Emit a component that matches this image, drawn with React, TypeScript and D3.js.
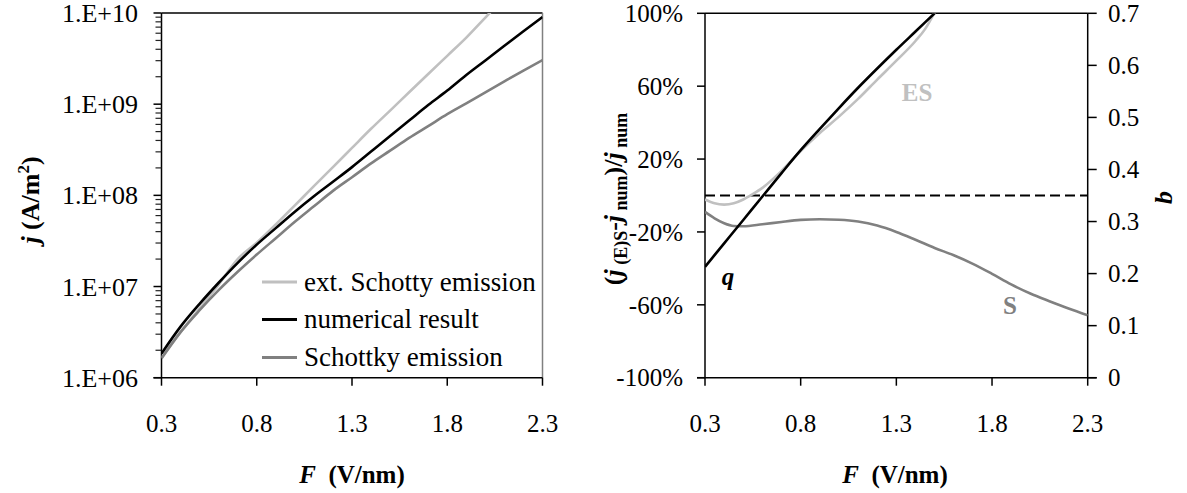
import React from "react";
import * as d3 from "d3";

// ---- Left panel: current density vs field ----
const F_LEFT = [0.3, 0.4, 0.5, 0.6, 0.7, 0.8, 0.9, 1.0, 1.1, 1.2, 1.3, 1.4, 1.5, 1.6, 1.7, 1.8, 1.9, 2.0, 2.1, 2.2, 2.3];
const J_EXT_SCHOTTKY = [1.66e6, 3.16e6, 5.75e6, 1.05e7, 2.0e7, 3.02e7, 4.79e7, 7.76e7, 1.26e8, 2.04e8, 3.31e8, 5.37e8, 8.51e8, 1.35e9, 2.14e9, 3.39e9, 5.37e9, 8.91e9, 1.48e10];
const J_NUMERICAL = [1.84e6, 3.63e6, 6.46e6, 1.1e7, 1.82e7, 2.88e7, 4.37e7, 6.61e7, 9.77e7, 1.41e8, 2.04e8, 3.02e8, 4.47e8, 6.61e8, 9.77e8, 1.41e9, 2.09e9, 3.02e9, 4.37e9, 6.31e9, 9.02e9];
const J_SCHOTTKY = [1.62e6, 3.16e6, 5.5e6, 9.12e6, 1.45e7, 2.24e7, 3.39e7, 5.13e7, 7.59e7, 1.12e8, 1.58e8, 2.24e8, 3.09e8, 4.27e8, 5.75e8, 7.76e8, 1.02e9, 1.35e9, 1.78e9, 2.34e9, 3.05e9];
const LEFT_Y_TICKS = [1e6, 1e7, 1e8, 1e9, 1e10];
const LEFT_Y_LABELS = ["1.E+06", "1.E+07", "1.E+08", "1.E+09", "1.E+10"];
const X_TICKS = [0.3, 0.8, 1.3, 1.8, 2.3];
const X_LABELS = ["0.3", "0.8", "1.3", "1.8", "2.3"];
const LEGEND_LABELS = ["ext. Schotty emission", "numerical result", "Schottky emission"];

// ---- Right panel: relative deviation and q ----
const F_ES = [0.3, 0.35, 0.4, 0.45, 0.5, 0.55, 0.6, 0.7, 0.8, 0.9, 1.0, 1.1, 1.2, 1.3, 1.4, 1.45, 1.5];
const DEV_ES = [-2.2, -4.3, -5.0, -4.3, -2.2, 0.8, 4.2, 13.5, 24.4, 34.3, 43.3, 53, 63.6, 74, 84.8, 91.3, 100.5];
const F_S = [0.3, 0.35, 0.4, 0.45, 0.5, 0.6, 0.7, 0.8, 0.9, 1.0, 1.1, 1.2, 1.3, 1.4, 1.5, 1.6, 1.7, 1.8, 1.9, 2.0, 2.1, 2.2, 2.3];
const DEV_S = [-9.0, -12.5, -15.2, -16.7, -16.9, -15.8, -14.5, -13.4, -13.0, -13.3, -14.3, -16.5, -20.0, -24.3, -28.8, -32.8, -37.5, -43.0, -48.8, -53.8, -58.0, -62.0, -65.7];
const F_Q = [0.3, 0.4, 0.5, 0.6, 0.7, 0.8, 0.9, 1.0, 1.1, 1.2, 1.3, 1.4, 1.5];
const Q_VALUES = [0.213, 0.258, 0.303, 0.348, 0.393, 0.437, 0.478, 0.518, 0.557, 0.594, 0.63, 0.665, 0.7];
const DEV_TICKS = [-100, -60, -20, 20, 60, 100];
const DEV_LABELS = ["-100%", "-60%", "-20%", "20%", "60%", "100%"];
const Q_TICKS = [0, 0.1, 0.2, 0.3, 0.4, 0.5, 0.6, 0.7];
const Q_LABELS = ["0", "0.1", "0.2", "0.3", "0.4", "0.5", "0.6", "0.7"];

const FONT = "'Liberation Serif', 'Times New Roman', serif";
const FS = 25;
const LIGHT = "#c0c0c0";
const MID = "#808080";

type Pt = [number, number];
const zip = (xs: number[], ys: number[]): Pt[] => ys.map((y, i) => [xs[i], y]);

export default function App() {
  // Left panel scales
  const lx = d3.scaleLinear().domain([0.3, 2.3]).range([161.5, 542.5]);
  const ly = d3.scaleLog().domain([1e6, 1e10]).range([377.7, 13]);
  const leftLine = d3
    .line<Pt>()
    .x((d) => lx(d[0]))
    .y((d) => ly(d[1]))
    .curve(d3.curveMonotoneX);

  // Right panel scales
  const rx = d3.scaleLinear().domain([0.3, 2.3]).range([705, 1087.7]);
  const ry = d3.scaleLinear().domain([-100, 100]).range([377.7, 13.3]);
  const rq = d3.scaleLinear().domain([0, 0.7]).range([377.7, 13.3]);
  const devLine = d3
    .line<Pt>()
    .x((d) => rx(d[0]))
    .y((d) => ry(d[1]))
    .curve(d3.curveMonotoneX);
  const qLine = d3
    .line<Pt>()
    .x((d) => rx(d[0]))
    .y((d) => rq(d[1]))
    .curve(d3.curveMonotoneX);

  const minorTicks: number[] = [];
  for (let e = 6; e < 10; e++) {
    for (let m = 2; m <= 9; m++) minorTicks.push(m * Math.pow(10, e));
  }

  const legendY = [282, 319.5, 357.5];
  const legendColors = [LIGHT, "#000", MID];

  return (
    <svg
      width={1187}
      height={493}
      style={{ position: "absolute", left: 0, top: 0, background: "#fff" }}
      fontFamily={FONT}
    >
      <defs>
        <clipPath id="clipL">
          <rect x={lx(0.3)} y={ly(1e10)} width={lx(2.3) - lx(0.3)} height={ly(1e6) - ly(1e10)} />
        </clipPath>
        <clipPath id="clipR">
          <rect x={rx(0.3)} y={ry(100)} width={rx(2.3) - rx(0.3)} height={ry(-100) - ry(100)} />
        </clipPath>
      </defs>
      <rect x={0} y={0} width={1187} height={493} fill="#fff" />

      {/* ===== Left panel ===== */}
      <g>
        <line x1={lx(0.3)} x2={lx(2.3)} y1={ly(1e10)} y2={ly(1e10)} stroke="#000" strokeWidth={1.5} />
        <line x1={lx(2.3)} x2={lx(2.3)} y1={ly(1e10)} y2={ly(1e6)} stroke={MID} strokeWidth={1.5} />
        <line x1={lx(0.3)} x2={lx(0.3)} y1={ly(1e10)} y2={ly(1e6)} stroke="#000" strokeWidth={1.5} />
        <line x1={lx(0.3) - 8} x2={lx(2.3)} y1={ly(1e6)} y2={ly(1e6)} stroke="#000" strokeWidth={1.5} />

        {minorTicks.map((v) => (
          <line key={"m" + v} x1={lx(0.3) - 6} x2={lx(0.3)} y1={ly(v)} y2={ly(v)} stroke="#222" strokeWidth={1.2} />
        ))}
        {LEFT_Y_TICKS.map((v, i) => (
          <g key={"ly" + v}>
            <line x1={lx(0.3) - 8} x2={lx(0.3)} y1={ly(v)} y2={ly(v)} stroke="#000" strokeWidth={1.5} />
            <text x={138} y={ly(v)} dy="0.35em" textAnchor="end" fontSize={26}>
              {LEFT_Y_LABELS[i]}
            </text>
          </g>
        ))}
        {X_TICKS.map((v, i) => (
          <g key={"lx" + v}>
            <line x1={lx(v)} x2={lx(v)} y1={ly(1e6)} y2={ly(1e6) + 8} stroke="#000" strokeWidth={1.5} />
            <text x={lx(v)} y={432} textAnchor="middle" fontSize={FS}>
              {X_LABELS[i]}
            </text>
          </g>
        ))}

        <g clipPath="url(#clipL)" fill="none" strokeWidth={2.6} strokeLinejoin="round">
          <path d={leftLine(zip(F_LEFT, J_EXT_SCHOTTKY)) || ""} stroke={LIGHT} />
          <path d={leftLine(zip(F_LEFT, J_SCHOTTKY)) || ""} stroke={MID} />
          <path d={leftLine(zip(F_LEFT, J_NUMERICAL)) || ""} stroke="#000" />
        </g>

        {/* legend */}
        {LEGEND_LABELS.map((t, i) => (
          <g key={t}>
            <line x1={262} x2={297} y1={legendY[i]} y2={legendY[i]} stroke={legendColors[i]} strokeWidth={3} />
            <text x={304} y={legendY[i]} dy="0.33em" fontSize={27}>
              {t}
            </text>
          </g>
        ))}

        {/* axis titles */}
        <text transform="translate(39,200) rotate(-90)" textAnchor="middle" fontSize={26} fontWeight="bold">
          <tspan fontStyle="italic">j</tspan>
          <tspan> (A/m</tspan>
          <tspan fontSize={17} dy={-10}>2</tspan>
          <tspan dy={10}>)</tspan>
        </text>
        <text x={352} y={483} textAnchor="middle" fontSize={FS} fontWeight="bold">
          <tspan fontStyle="italic">F</tspan>
          <tspan xmlSpace="preserve">{"  (V/nm)"}</tspan>
        </text>
      </g>

      {/* ===== Right panel ===== */}
      <g>
        <line x1={rx(0.3)} x2={rx(2.3)} y1={ry(100)} y2={ry(100)} stroke="#000" strokeWidth={1.5} />
        <line x1={rx(0.3)} x2={rx(0.3)} y1={ry(100)} y2={ry(-100)} stroke="#000" strokeWidth={1.5} />
        <line x1={rx(2.3)} x2={rx(2.3)} y1={ry(100)} y2={ry(-100)} stroke="#000" strokeWidth={1.5} />
        <line x1={rx(0.3) - 8} x2={rx(2.3) + 9} y1={ry(-100)} y2={ry(-100)} stroke="#000" strokeWidth={1.5} />

        {DEV_TICKS.map((v, i) => (
          <g key={"ry" + v}>
            <line x1={rx(0.3) - 8} x2={rx(0.3)} y1={ry(v)} y2={ry(v)} stroke="#000" strokeWidth={1.5} />
            <text x={683} y={ry(v)} dy="0.35em" textAnchor="end" fontSize={FS}>
              {DEV_LABELS[i]}
            </text>
          </g>
        ))}
        {Q_TICKS.map((v, i) => (
          <g key={"rq" + v}>
            <line x1={rx(2.3)} x2={rx(2.3) + 9} y1={rq(v)} y2={rq(v)} stroke="#000" strokeWidth={1.5} />
            <text x={1108} y={rq(v)} dy="0.35em" textAnchor="start" fontSize={FS}>
              {Q_LABELS[i]}
            </text>
          </g>
        ))}
        {X_TICKS.map((v, i) => (
          <g key={"rx" + v}>
            <line x1={rx(v)} x2={rx(v)} y1={ry(-100)} y2={ry(-100) + 8} stroke="#000" strokeWidth={1.5} />
            <text x={rx(v)} y={432} textAnchor="middle" fontSize={FS}>
              {X_LABELS[i]}
            </text>
          </g>
        ))}

        {/* zero reference */}
        <line x1={rx(0.3)} x2={rx(2.3)} y1={ry(0)} y2={ry(0)} stroke="#000" strokeWidth={2} strokeDasharray="10 5" />

        <g clipPath="url(#clipR)" fill="none" strokeWidth={2.6} strokeLinejoin="round">
          <path d={devLine(zip(F_ES, DEV_ES)) || ""} stroke={LIGHT} />
          <path d={devLine(zip(F_S, DEV_S)) || ""} stroke={MID} />
          <path d={qLine(zip(F_Q, Q_VALUES)) || ""} stroke="#000" />
        </g>

        {/* curve labels */}
        <text x={917} y={92} dy="0.35em" textAnchor="middle" fontSize={FS} fontWeight="bold" fill={LIGHT}>
          ES
        </text>
        <text x={1010} y={305} dy="0.35em" textAnchor="middle" fontSize={FS} fontWeight="bold" fill={MID}>
          S
        </text>
        <text x={728} y={277} dy="0.3em" textAnchor="middle" fontSize={FS} fontWeight="bold" fontStyle="italic">
          q
        </text>

        {/* axis titles */}
        <text transform="translate(622,199) rotate(-90)" textAnchor="middle" fontSize={26} fontWeight="bold">
          <tspan>(</tspan>
          <tspan fontStyle="italic">j</tspan>
          <tspan fontSize={18} dy={5} xmlSpace="preserve">{" (E)S"}</tspan>
          <tspan dy={-5}>-</tspan>
          <tspan fontStyle="italic">j</tspan>
          <tspan fontSize={18} dy={5} xmlSpace="preserve">{" num"}</tspan>
          <tspan dy={-5}>)/</tspan>
          <tspan fontStyle="italic">j</tspan>
          <tspan fontSize={18} dy={5} xmlSpace="preserve">{" num"}</tspan>
        </text>
        <text transform="translate(1160,198) rotate(90)" textAnchor="middle" fontSize={26} fontWeight="bold" fontStyle="italic">
          q
        </text>
        <text x={895} y={483} textAnchor="middle" fontSize={FS} fontWeight="bold">
          <tspan fontStyle="italic">F</tspan>
          <tspan xmlSpace="preserve">{"  (V/nm)"}</tspan>
        </text>
      </g>
    </svg>
  );
}
